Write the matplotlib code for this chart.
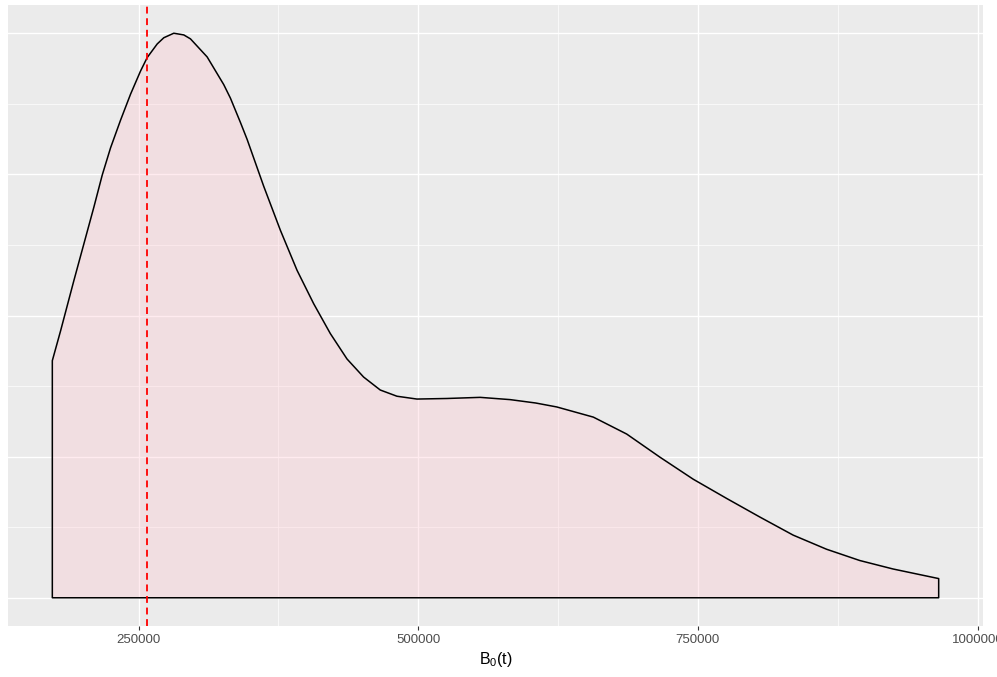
import matplotlib
matplotlib.use("Agg")
import matplotlib.pyplot as plt
from matplotlib.ticker import FixedLocator

plt.rcParams['font.family'] = ['Liberation Sans', 'DejaVu Sans']
plt.rcParams['mathtext.fontset'] = 'custom'
plt.rcParams['mathtext.rm'] = 'Liberation Sans'

# Estimated density curve of B0(t) (relative density, peak = 1)
b0_values = [172946, 180357, 192232, 201161, 210089, 217589, 225000, 233929,
             242857, 251786, 257768, 266696, 272589, 281518, 290446, 296429,
             311339, 326161, 332143, 341071, 347054, 361875, 376786, 391696,
             406518, 421429, 436339, 451161, 466071, 480982, 498839, 525625,
             555357, 582143, 605000, 623839, 656518, 686339, 716071, 745804,
             775625, 805357, 835089, 864911, 894643, 924375, 965179]
density = [0.420, 0.473, 0.562, 0.627, 0.692, 0.749, 0.797, 0.846,
           0.892, 0.933, 0.957, 0.981, 0.992, 1.000, 0.997, 0.990,
           0.958, 0.909, 0.885, 0.842, 0.812, 0.729, 0.651, 0.580,
           0.521, 0.468, 0.423, 0.391, 0.368, 0.357, 0.352, 0.353,
           0.355, 0.351, 0.345, 0.338, 0.320, 0.290, 0.249, 0.210,
           0.176, 0.143, 0.111, 0.086, 0.066, 0.051, 0.034]
ref_line = 257143
x_breaks = [250000, 500000, 750000, 1000000]
x_minor = [375000, 625000, 875000]
x_labels = ["250000", "500000", "750000", "1000000"]
y_major = [0.0, 0.25, 0.5, 0.75, 1.0]
y_minor = [0.125, 0.375, 0.625, 0.875]

fig = plt.figure(figsize=(9.97, 6.77), dpi=100)
ax = fig.add_axes([8/997, 1-626/677, 975/997, 621/677])
ax.set_facecolor('#EBEBEB')

xs = [b0_values[0]] + b0_values + [b0_values[-1]]
ys = [0.0] + density + [0.0]
ax.fill(xs, ys, facecolor='pink', alpha=0.3, edgecolor='none', zorder=2)
ax.fill(xs, ys, facecolor='none', edgecolor='black', linewidth=1.1,
        joinstyle='round', zorder=3)
ax.axvline(ref_line, color='red', linewidth=1.3, linestyle=(0, (3.8, 2.6)), zorder=4)

xmin, xmax = min(b0_values), max(b0_values)
xr = xmax - xmin
ax.set_xlim(xmin - 0.05*xr, xmax + 0.05*xr)
ymax = max(density)
ax.set_ylim(-0.05*ymax, 1.05*ymax)

ax.xaxis.set_major_locator(FixedLocator(x_breaks))
ax.xaxis.set_minor_locator(FixedLocator(x_minor))
ax.set_xticklabels(x_labels)
ax.yaxis.set_major_locator(FixedLocator(y_major))
ax.yaxis.set_minor_locator(FixedLocator(y_minor))
ax.grid(which='major', color='white', linewidth=1.0, zorder=1)
ax.grid(which='minor', color='white', linewidth=0.5, zorder=1)
ax.set_axisbelow(True)

ax.tick_params(axis='x', which='major', length=3.0, width=0.8, color='#333333',
               labelsize=9.5, labelcolor='#4D4D4D', pad=2.5)
ax.tick_params(axis='x', which='minor', length=0)
ax.tick_params(axis='y', which='both', length=0, labelleft=False)
for s in ax.spines.values():
    s.set_visible(False)

ax.set_xlabel(r'$\mathregular{B_0(t)}$', fontsize=11.5, color='black', labelpad=3)

fig.savefig('out.png', dpi=100, facecolor='white')
